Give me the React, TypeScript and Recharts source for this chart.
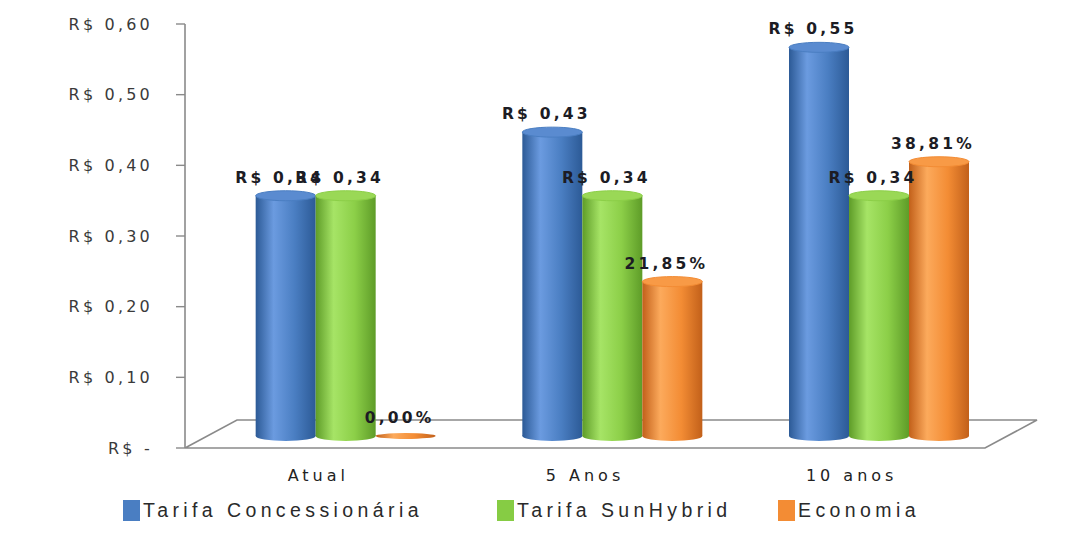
import React from "react"
import { BarChart, Bar, XAxis, YAxis, LabelList, Customized } from "recharts"

// tariff comparison (R$/kWh) and savings share per horizon
const categories = ["Atual", "5 Anos", "10 anos"]
const tarifaConcessionaria = [0.34, 0.43, 0.55]
const tarifaSunHybrid = [0.34, 0.34, 0.34]
const economia = [0.0, 0.2185, 0.3881]
const yTicks = [0, 0.1, 0.2, 0.3, 0.4, 0.5, 0.6]

const data = categories.map((name, i) => ({
  name,
  concessionaria: tarifaConcessionaria[i],
  sunhybrid: tarifaSunHybrid[i],
  economia: economia[i],
}))

const W = 1070
const H = 534
const M = { top: 24, right: 85, left: 0, bottom: 46 }
const Y_AXIS_W = 185
const X_AXIS_H = 40
const PLOT_L = M.left + Y_AXIS_W
const PLOT_R = W - M.right
const PLOT_B = H - M.bottom - X_AXIS_H

// 3d depth: bars sit halfway into the floor
const DX = 28
const DY = -12
const FLOOR_DX = 52
const FLOOR_DY = -28
const RY = 5

const FONT = "'DejaVu Sans', Verdana, sans-serif"

const money = (v: number) => (v === 0 ? "R$ -" : `R$ ${v.toFixed(2).replace(".", ",")}`)
const pct = (v: number) => `${(v * 100).toFixed(2).replace(".", ",")}%`

const series = [
  { key: "concessionaria", name: "Tarifa Concessionária", fmt: money, dark: "#2c5a96", mid: "#4a7ec2", light: "#6b9be0", top: "#5a8bd0", swatch: "#4a7ec2", legendX: 123 },
  { key: "sunhybrid", name: "Tarifa SunHybrid", fmt: money, dark: "#5e9c28", mid: "#8ccf48", light: "#a6e466", top: "#9ad856", swatch: "#86cc44", legendX: 497 },
  { key: "economia", name: "Economia", fmt: pct, dark: "#c2601a", mid: "#f38c34", light: "#fcaa5c", top: "#f89a46", swatch: "#f38c34", legendX: 778 },
]

const Floor = () => (
  <g>
    <defs>
      {series.map((s) => (
        <linearGradient key={s.key} id={`cyl-${s.key}`} x1="0" y1="0" x2="1" y2="0">
          <stop offset="0%" stopColor={s.dark} />
          <stop offset="30%" stopColor={s.light} />
          <stop offset="65%" stopColor={s.mid} />
          <stop offset="100%" stopColor={s.dark} />
        </linearGradient>
      ))}
    </defs>
    <path
      d={`M${PLOT_L},${PLOT_B} L${PLOT_L + FLOOR_DX},${PLOT_B + FLOOR_DY} L${PLOT_R + FLOOR_DX},${PLOT_B + FLOOR_DY} L${PLOT_R},${PLOT_B} Z`}
      fill="#ffffff"
      stroke="#8a8a8a"
      strokeWidth={1.6}
    />
    <line x1={PLOT_L} y1={M.top} x2={PLOT_L} y2={PLOT_B} stroke="#8a8a8a" strokeWidth={1.6} />
  </g>
)

const Cylinder = (props: any, s: (typeof series)[number]) => {
  const { x, y, width, height } = props
  const left = x + DX
  const top = y + DY
  const h = Math.max(0, height)
  const bottom = top + h
  const rx = width / 2
  return (
    <g>
      <ellipse cx={left + rx} cy={bottom} rx={rx} ry={h > 0 ? RY : 3} fill={`url(#cyl-${s.key})`} />
      {h > 0 && <rect x={left} y={top} width={width} height={h} fill={`url(#cyl-${s.key})`} />}
      {h > 0 && <ellipse cx={left + rx} cy={top} rx={rx} ry={RY} fill={s.top} stroke={s.mid} strokeWidth={1} />}
    </g>
  )
}

const ValueLabel = (props: any, s: (typeof series)[number]) => {
  const { x, y, width, value } = props
  return (
    <text
      x={x + width / 2 + DX - 6}
      y={y + DY - RY - 8}
      textAnchor="middle"
      fontFamily={FONT}
      fontSize={15.5}
      fontWeight="bold"
      letterSpacing={3.2}
      fill="#1c1c24"
    >
      {s.fmt(value)}
    </text>
  )
}

export default function App() {
  return (
    <div style={{ position: "absolute", left: 0, top: 0, width: W, height: H, background: "#fff" }}>
      <BarChart width={W} height={H} data={data} margin={M} barGap={0} barCategoryGap="16%">
        <Customized component={<Floor />} />
        <YAxis
          width={Y_AXIS_W}
          domain={[0, 0.6]}
          ticks={yTicks}
          tickFormatter={money}
          axisLine={false}
          tickLine={{ stroke: "#8a8a8a", strokeWidth: 1.4 }}
          tickSize={9}
          tickMargin={23}
          tick={{ fill: "#3a3a3a", fontSize: 16, fontFamily: FONT, letterSpacing: 3.2 }}
        />
        <XAxis
          dataKey="name"
          height={X_AXIS_H}
          axisLine={false}
          tickLine={false}
          tickSize={0}
          tickMargin={22}
          tick={{ fill: "#222", fontSize: 16, fontFamily: FONT, letterSpacing: 4 }}
        />
        {series.map((s) => (
          <Bar
            key={s.key}
            dataKey={s.key}
            name={s.name}
            isAnimationActive={false}
            shape={(p: any) => Cylinder(p, s)}
          >
            <LabelList dataKey={s.key} content={(p: any) => ValueLabel(p, s)} />
          </Bar>
        ))}
      </BarChart>
      {series.map((s) => (
        <div
          key={s.key}
          style={{ position: "absolute", left: s.legendX, top: 499, display: "flex", alignItems: "center", height: 22 }}
        >
          <span style={{ width: 17, height: 21, background: s.swatch, display: "inline-block", marginRight: 3 }} />
          <span style={{ fontFamily: "'Liberation Sans', Arial, sans-serif", fontSize: 19.5, letterSpacing: 4.4, color: "#2a2a2a" }}>
            {s.name}
          </span>
        </div>
      ))}
    </div>
  )
}
